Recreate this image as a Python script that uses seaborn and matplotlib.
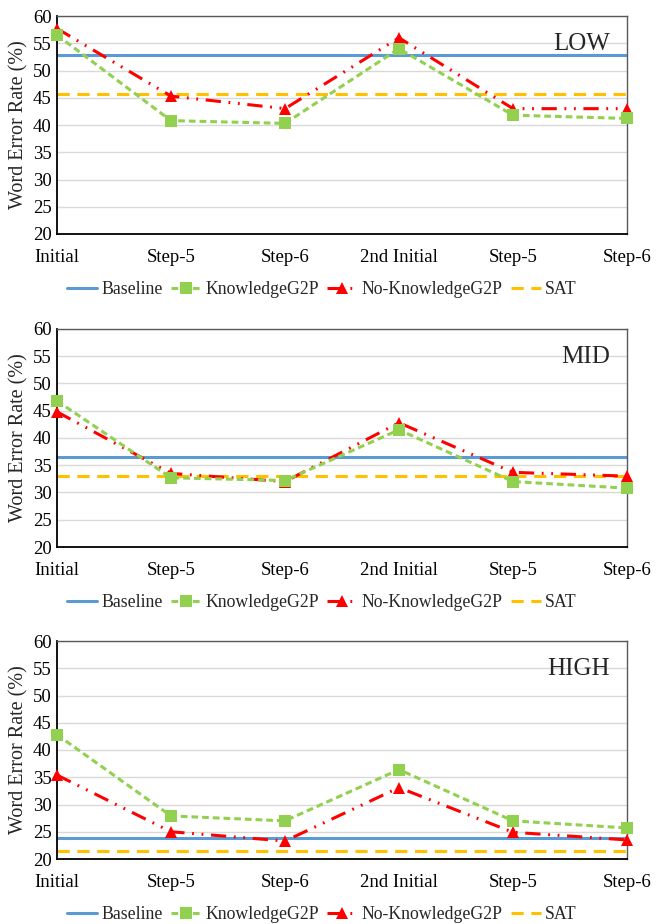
import matplotlib
matplotlib.use("Agg")
import matplotlib.pyplot as plt
import seaborn as sns
import pandas as pd
from matplotlib.lines import Line2D

stages = ["Initial", "Step-5", "Step-6", "2nd Initial", "Step-5", "Step-6"]
panels = ["LOW", "MID", "HIGH"]

baseline = {"LOW": 52.8, "MID": 36.6, "HIGH": 23.8}
sat = {"LOW": 45.7, "MID": 33.1, "HIGH": 21.4}
knowledge = {
    "LOW": [56.5, 40.8, 40.3, 54.0, 41.8, 41.2],
    "MID": [46.8, 32.7, 32.2, 41.5, 32.0, 30.8],
    "HIGH": [42.8, 27.9, 27.0, 36.4, 27.0, 25.7],
}
no_knowledge = {
    "LOW": [57.7, 45.3, 43.0, 56.0, 43.0, 43.0],
    "MID": [44.8, 33.5, 32.0, 42.8, 33.7, 33.0],
    "HIGH": [35.4, 25.0, 23.3, 33.1, 24.9, 23.5],
}

sns.set_theme(style="white")
plt.rcParams["font.family"] = ["Liberation Serif", "DejaVu Serif"]

C_BASE = "#5B9BD5"
C_KN = "#92D050"
C_NK = "#FF0000"
C_SAT = "#FFC000"

fig = plt.figure(figsize=(6.68, 9.24), dpi=100)
W, H = 668, 924
boxes = [(16, 234), (329, 547), (641, 859)]
left, right = 57, 627

for name, (top, bot) in zip(panels, boxes):
    ax = fig.add_axes([left / W, 1 - bot / H, (right - left) / W, (bot - top) / H])
    x = list(range(len(stages)))
    ax.yaxis.grid(True, color="#D9D9D9", lw=1)
    ax.set_axisbelow(True)
    ax.axhline(baseline[name], color=C_BASE, lw=2.2, zorder=2)
    ax.axhline(sat[name], color=C_SAT, lw=2.2, dashes=(4, 2.5), zorder=2)
    df_k = pd.DataFrame({"x": x, "y": knowledge[name]})
    df_n = pd.DataFrame({"x": x, "y": no_knowledge[name]})
    sns.lineplot(data=df_n, x="x", y="y", ax=ax, color=C_NK, lw=2.2,
                 marker="^", markersize=9, markeredgewidth=0,
                 dashes=False, zorder=3, clip_on=False)
    ax.lines[-1].set_dashes((5, 2.5, 0.6, 2.5, 0.6, 2.5))
    sns.lineplot(data=df_k, x="x", y="y", ax=ax, color=C_KN, lw=2.2,
                 marker="s", markersize=8, markeredgewidth=0,
                 zorder=4, clip_on=False)
    ax.lines[-1].set_dashes((2.2, 1.3))
    ax.set_xlim(0, 5)
    ax.set_ylim(20, 60)
    ax.set_yticks(range(20, 61, 5))
    ax.set_xticks(x)
    ax.set_xticklabels(stages)
    ax.tick_params(axis="both", length=0, labelsize=13.5, colors="black")
    ax.tick_params(axis="x", pad=11)
    ax.tick_params(axis="y", pad=4)
    ax.set_xlabel("")
    ax.set_ylabel("Word Error Rate (%)", fontsize=14.5, labelpad=3)
    for s in ["left", "bottom"]:
        ax.spines[s].set_color("black")
        ax.spines[s].set_linewidth(1.3)
    for s in ["top", "right"]:
        ax.spines[s].set_color("#595959")
        ax.spines[s].set_linewidth(1.0)
    ax.text(0.97, 0.92, name, transform=ax.transAxes, ha="right", va="top",
            fontsize=18)
    handles = [
        Line2D([], [], color=C_BASE, lw=2.2),
        Line2D([], [], color=C_KN, lw=2.2, dashes=(2.2, 1.3), marker="s",
               markersize=8, markeredgewidth=0),
        Line2D([], [], color=C_NK, lw=2.2, dashes=(5, 2.5, 0.6, 2.5),
               marker="^", markersize=9, markeredgewidth=0),
        Line2D([], [], color=C_SAT, lw=2.2, dashes=(4, 2.5)),
    ]
    ax.legend(handles, ["Baseline", "KnowledgeG2P", "No-KnowledgeG2P", "SAT"],
              loc="upper left", bbox_to_anchor=(0.017, -0.215), ncol=4,
              frameon=False, fontsize=12.8, handlelength=1.7, handletextpad=0.25,
              columnspacing=0.45, borderaxespad=0, borderpad=0)

fig.savefig("out.png", dpi=100)
